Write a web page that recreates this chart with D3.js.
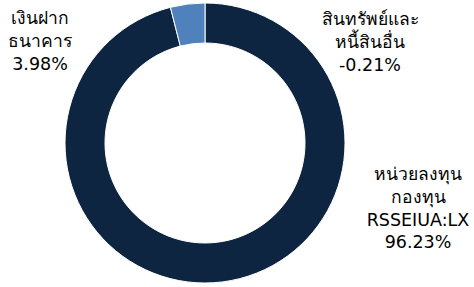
<!DOCTYPE html>
<html>
<head>
<meta charset="utf-8">
<script src="https://cdn.jsdelivr.net/npm/d3@7"></script>
<style>
  html, body { margin: 0; padding: 0; background: #fff; }
  svg { display: block; }
  text { font-family: Tahoma, "DejaVu Sans", sans-serif; font-size: 17.5px; fill: #000; }
</style>
</head>
<body>
<svg id="chart" width="474" height="287"></svg>
<script>
// slices: funds, other assets/liabilities (negative, drawn as zero), deposits
var names = ["หน่วยลงทุน กองทุน RSSEIUA:LX", "สินทรัพย์และหนี้สินอื่น", "เงินฝากธนาคาร"];
var values = [96.23, -0.21, 3.98];
var colors = ["#0E2541", "#0E2541", "#4F81BD"];
var labelLines = [
  ["หน่วยลงทุน", "กองทุน", "RSSEIUA:LX", "96.23%"],
  ["สินทรัพย์และ", "หนี้สินอื่น", "-0.21%"],
  ["เงินฝาก", "ธนาคาร", "3.98%"]
];
var labelPos = [[418, 180], [370, 25], [40, 24]];

var svg = d3.select("#chart"),
    cx = 205, cy = 143,
    outer = 140, inner = 100,
    g = svg.append("g").attr("transform", "translate(" + cx + "," + cy + ")");

var pie = d3.pie()
    .sort(null)
    .value(function (d) { return Math.max(0, d); });
var arc = d3.arc().innerRadius(inner).outerRadius(outer);

g.selectAll("path")
    .data(pie(values))
    .enter().append("path")
    .attr("d", arc)
    .attr("fill", function (d, i) { return colors[i]; })
    .attr("stroke", "#fff")
    .attr("stroke-width", function (d) { return d.value > 0 ? 1 : 0; });

var lab = svg.selectAll(".lbl")
    .data(labelLines)
    .enter().append("text")
    .attr("class", "lbl")
    .attr("text-anchor", "middle")
    .attr("x", function (d, i) { return labelPos[i][0]; })
    .attr("y", function (d, i) { return labelPos[i][1]; });

lab.selectAll("tspan")
    .data(function (d, i) { return d.map(function (s) { return {s: s, i: i}; }); })
    .enter().append("tspan")
    .attr("x", function (d) { return labelPos[d.i][0]; })
    .attr("dy", function (d, j) { return j === 0 ? 0 : 22.8; })
    .text(function (d) { return d.s; });
</script>
</body>
</html>
